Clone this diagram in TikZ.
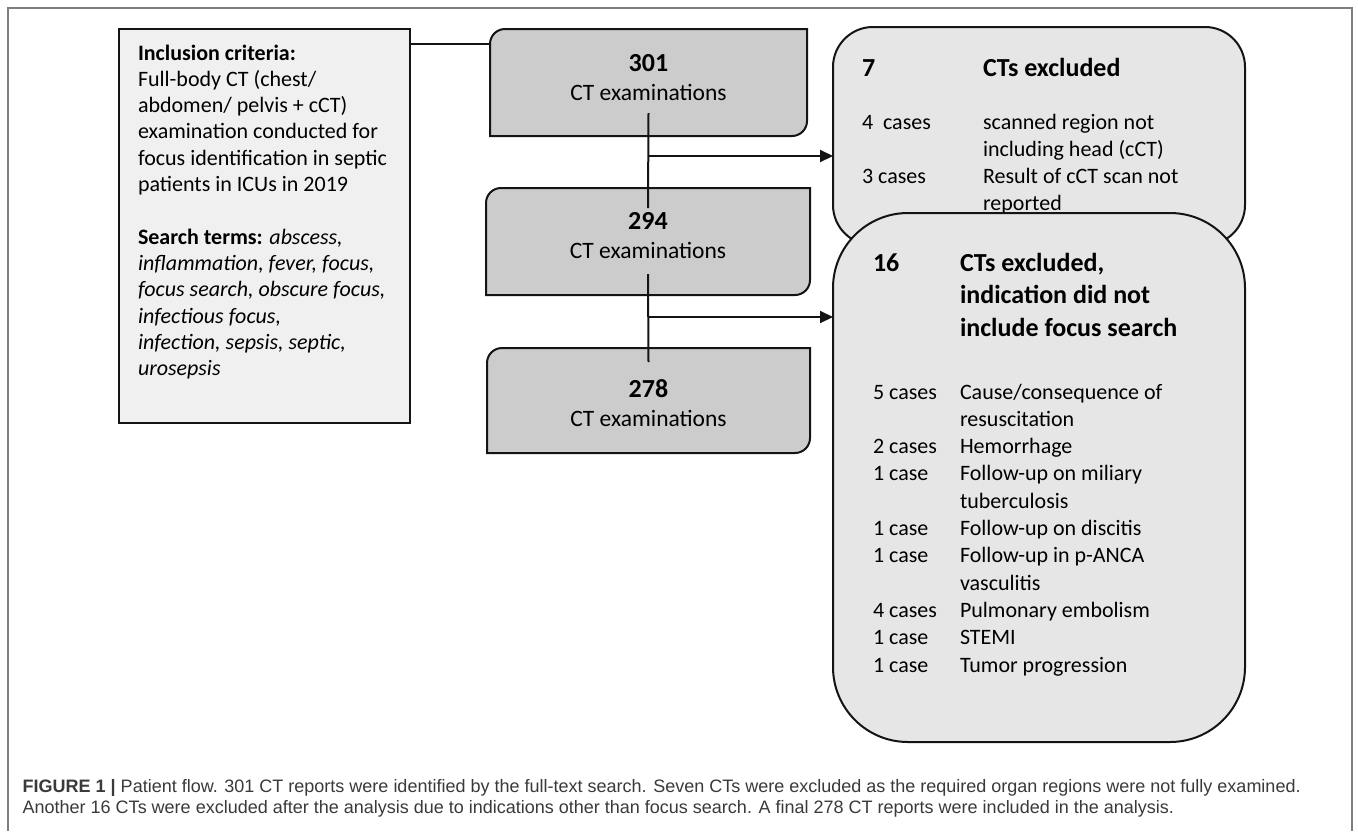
\documentclass[tikz,border=0pt]{standalone}
\usepackage{fontspec}
\setmainfont{Carlito}
\newfontfamily\capfont{Liberation Sans}
\usetikzlibrary{arrows.meta}
\definecolor{ctfill}{HTML}{CCCCCC}
\definecolor{exfill}{HTML}{E6E6E6}
\definecolor{incfill}{HTML}{F0F0F0}
\definecolor{framegray}{HTML}{7F7F7F}
\definecolor{captext}{HTML}{3A3A3A}
\definecolor{inkcol}{HTML}{141414}
\newcommand{\bodyfont}{\fontsize{22}{26.3}\selectfont}
\newcommand{\listfont}{\fontsize{22}{27.3}\selectfont}
\newcommand{\headfont}{\fontsize{26}{32.5}\selectfont\bfseries}
\newcommand{\ctoutline}[1]{%
  \draw[ctbox] (#1.south west) -- ([yshift=-15pt]#1.north west)
    arc[start angle=180, end angle=90, radius=15pt] -- (#1.north east)
    -- ([yshift=15pt]#1.south east)
    arc[start angle=0, end angle=-90, radius=15pt] -- cycle;}
\begin{document}
\begin{tikzpicture}[x=1pt,y=-1pt,
  slotbox/.style={shape=rectangle, inner sep=0pt, outer sep=0pt},
  ctbox/.style={draw=inkcol, line width=2pt, fill=ctfill},
  exbox/.style={slotbox, draw=inkcol, line width=2pt, fill=exfill},
  incbox/.style={slotbox, draw=inkcol, line width=2pt, fill=incfill},
  conn/.style={draw=inkcol, line width=2pt},
  arr/.style={conn, -{Triangle[length=13pt,width=12pt]}},
  txt/.style={inner sep=0pt, outer sep=0pt, text=black},
  cttxt/.style={txt, font=\fontsize{23.5}{28}\selectfont},
  captxt/.style={inner sep=0pt, outer sep=0pt, text=captext, font=\capfont\fontsize{18}{21}\selectfont, anchor=base west}
]
\useasboundingbox (0,0) rectangle (1358,831);
\fill[white] (0,0) rectangle (1358,831);
% outer frame
\draw[framegray, line width=1.5pt] (8,831) -- (8,8) -- (1352,8) -- (1352,831);

% inclusion box
\node[incbox, minimum width=291pt, minimum height=394pt] (inc) at (264.5,226) {};
\node[txt, anchor=base west] (inctext) at (138,60) {\bodyfont\begin{tabular}[t]{@{}l@{}}
\textbf{Inclusion criteria:}\\
Full-body CT (chest/\\
abdomen/ pelvis + cCT)\\
examination conducted for\\
focus identification in septic\\
patients in ICUs in 2019\\
\mbox{}\\
\textbf{Search terms:} \textit{abscess,}\\
\textit{inflammation, fever, focus,}\\
\textit{focus search, obscure focus,}\\
\textit{infectious focus,}\\
\textit{infection, sepsis, septic,}\\
\textit{urosepsis}
\end{tabular}};

% CT boxes
\node[slotbox, minimum width=317pt, minimum height=107pt] (b301) at (648.5,82.5) {};
\node[slotbox, minimum width=324pt, minimum height=107pt] (b294) at (648,241.5) {};
\node[slotbox, minimum width=323pt, minimum height=105pt] (b278) at (648.5,400.5) {};
\ctoutline{b301}
\ctoutline{b294}
\ctoutline{b278}
\node[txt, font=\headfont] (n301) at (648.5,63) {301};
\node[cttxt] (c301) at (648.5,92) {CT examinations};
\node[txt, font=\headfont] (n294) at (648,221) {294};
\node[cttxt] (c294) at (648,250) {CT examinations};
\node[txt, font=\headfont] (n278) at (648.5,389) {278};
\node[cttxt] (c278) at (648.5,418) {CT examinations};

% exclusion boxes
\node[exbox, rounded corners=40pt, minimum width=412pt, minimum height=218pt] (ex7) at (1039,136) {};
\node[txt, anchor=base west] (t7) at (862,76) {\headfont\begin{tabular}[t]{@{}p{121pt}@{}l@{}}7 & CTs excluded\end{tabular}};
\node[txt, anchor=base west] (l7) at (862,129) {\listfont\begin{tabular}[t]{@{}p{121pt}@{}l@{}}
4~ cases & scanned region not\\
 & including head (cCT)\\
3 cases & Result of cCT scan not\\
 & reported
\end{tabular}};

\node[exbox, rounded corners=75pt, minimum width=412pt, minimum height=529pt] (ex16) at (1039,477.5) {};
\node[txt, anchor=base west] (t16) at (873,271) {\headfont\begin{tabular}[t]{@{}p{87pt}@{}l@{}}
16 & CTs excluded,\\
 & indication did not\\
 & include focus search
\end{tabular}};
\node[txt, anchor=base west] (l16) at (873,399) {\listfont\begin{tabular}[t]{@{}p{87pt}@{}l@{}}
5 cases & Cause/consequence of\\
 & resuscitation\\
2 cases & Hemorrhage\\
1 case & Follow-up on miliary\\
 & tuberculosis\\
1 case & Follow-up on discitis\\
1 case & Follow-up in p-ANCA\\
 & vasculitis\\
4 cases & Pulmonary embolism\\
1 case & STEMI\\
1 case & Tumor progression
\end{tabular}};

% connectors
\draw[conn] ([yshift=-15pt]inc.north east) -- ([yshift=-15pt]inc.north east -| b301.west);
\coordinate (j1) at ([yshift=-20pt]b301.south);
\coordinate (j2) at ([yshift=-22pt]b294.south);
\draw[conn] ([yshift=23pt]b301.south) -- ([yshift=-20pt]b294.north);
\draw[arr] (j1) -- (j1 -| ex7.west);
\draw[conn] ([yshift=21pt]b294.south) -- ([yshift=-14pt]b278.north);
\draw[arr] (j2) -- (j2 -| ex16.west);

% caption
\node[captxt] (cap1) at (22.7,792) {\textbf{FIGURE 1 |} Patient flow. 301 CT reports were identified by the full-text search. Seven CTs were excluded as the required organ regions were not fully examined.};
\node[captxt] (cap2) at (22.7,813) {Another 16 CTs were excluded after the analysis due to indications other than focus search. A final 278 CT reports were included in the analysis.};
\end{tikzpicture}
\end{document}
